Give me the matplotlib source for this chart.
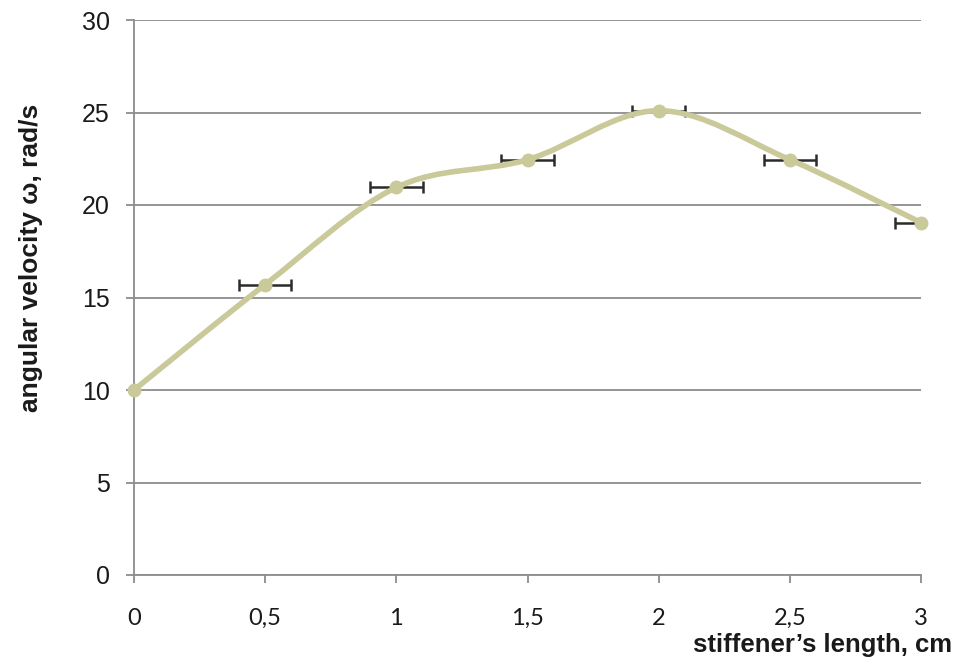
import matplotlib

matplotlib.use("Agg")
import matplotlib.pyplot as plt
import numpy as np
from matplotlib.path import Path
from matplotlib.patches import PathPatch

plt.rcParams["font.family"] = ["Liberation Sans", "DejaVu Sans"]

# stiffener length (cm) and measured angular velocity (rad/s)
LENGTH = [0, 0.5, 1, 1.5, 2, 2.5, 3]
OMEGA = [10.0, 15.7, 20.95, 22.45, 25.1, 22.45, 19.05]
LENGTH_ERR = [0, 0.1, 0.1, 0.1, 0.1, 0.1, 0.1]

X_TICKS = [0, 0.5, 1, 1.5, 2, 2.5, 3]
X_TICK_LABELS = ["0", "0,5", "1", "1,5", "2", "2,5", "3"]
Y_TICKS = [0, 5, 10, 15, 20, 25, 30]

LINE_COLOR = "#c9c99a"
GRID_COLOR = "#8c8c8c"
TEXT_COLOR = "#1a1a1a"


def smooth_path(xs, ys, tension=1.0 / 6.0):
    """Cubic Bezier path through every point (spreadsheet-style smoothed line)."""
    pts = np.column_stack([xs, ys]).astype(float)
    n = len(pts)
    verts = [pts[0]]
    codes = [Path.MOVETO]
    for i in range(n - 1):
        p0 = pts[max(i - 1, 0)]
        p1 = pts[i]
        p2 = pts[i + 1]
        p3 = pts[min(i + 2, n - 1)]
        c1 = p1 + (p2 - p0) * tension
        c2 = p2 - (p3 - p1) * tension
        verts += [c1, c2, p2]
        codes += [Path.CURVE4] * 3
    return Path(verts, codes)


fig = plt.figure(figsize=(9.59, 6.65), dpi=100)
ax = fig.add_axes([134 / 959, 90 / 665, 787 / 959, 555 / 665])

ax.set_xlim(0, 3)
ax.set_ylim(0, 30)
ax.set_yticks(Y_TICKS)
ax.set_xticks(X_TICKS)
ax.set_xticklabels(X_TICK_LABELS, family=["Lato", "DejaVu Sans"])

ax.grid(axis="y", color=GRID_COLOR, linewidth=1.3)
ax.set_axisbelow(True)
for side in ("top", "right"):
    ax.spines[side].set_visible(False)
for side in ("left", "bottom"):
    ax.spines[side].set_color(GRID_COLOR)
    ax.spines[side].set_linewidth(1.3)

ax.tick_params(axis="both", direction="out", length=5.5, width=1.3,
               color=GRID_COLOR, labelcolor=TEXT_COLOR)
ax.tick_params(axis="y", pad=12, labelsize=18)
ax.tick_params(axis="x", pad=18, labelsize=17)

ax.errorbar(LENGTH, OMEGA, xerr=LENGTH_ERR, fmt="none", ecolor="#2b2b2b",
            elinewidth=1.8, capsize=4.5, capthick=1.8, zorder=2)

ax.add_patch(PathPatch(smooth_path(LENGTH, OMEGA), facecolor="none",
                       edgecolor=LINE_COLOR, linewidth=4.0, zorder=3,
                       clip_on=False))
ax.plot(LENGTH, OMEGA, linestyle="none", marker="o", markersize=9,
        color=LINE_COLOR, zorder=4, clip_on=False)

fig.text(31 / 959, 1 - 258 / 665, "angular velocity ω, rad/s", fontsize=19,
         fontweight="bold", rotation=90, ha="center", va="center",
         color=TEXT_COLOR)
fig.text(952 / 959, 1 - 645 / 665, "stiffener’s length, cm", fontsize=18.5,
         fontweight="bold", ha="right", va="center", color=TEXT_COLOR)

fig.savefig("out.png", dpi=100)
